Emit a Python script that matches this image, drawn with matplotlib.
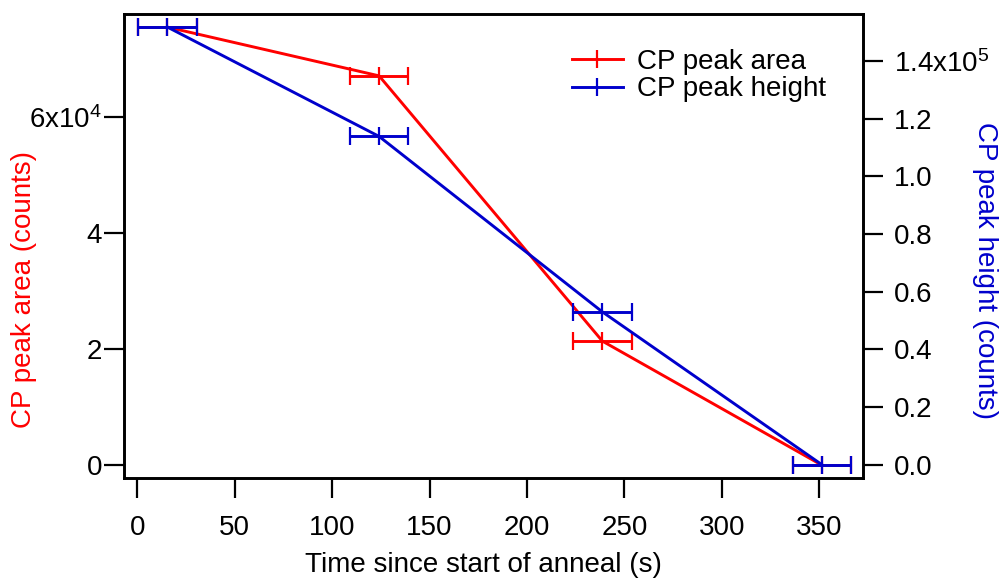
import matplotlib
matplotlib.use("Agg")
import matplotlib.pyplot as plt
from matplotlib.lines import Line2D

plt.rcParams['font.family'] = ['Liberation Sans', 'DejaVu Sans']
plt.rcParams['mathtext.default'] = 'regular'

# ---- data ----
time_s = [15.4, 124.1, 238.7, 351.5]
time_err = [15.0, 15.0, 15.0, 15.0]
peak_area = [7.55e4, 6.71e4, 2.14e4, 0.0]
peak_height = [1.517e5, 1.138e5, 0.530e5, 0.0]

x_ticks = [0, 50, 100, 150, 200, 250, 300, 350]
left_ticks = [0, 2e4, 4e4, 6e4]
left_labels = ['0', '2', '4', '6x10$^{4}$']
right_ticks = [0, 0.2e5, 0.4e5, 0.6e5, 0.8e5, 1.0e5, 1.2e5, 1.4e5]
right_labels = ['0.0', '0.2', '0.4', '0.6', '0.8', '1.0', '1.2', '1.4x10$^{5}$']

RED = '#FF0000'
BLUE = '#0000CC'
FS = 20

W, H = 1003, 580
fig = plt.figure(figsize=(W / 100, H / 100), dpi=100)
L, R, T, B = 124.3, 863, 14, 478.3
ax = fig.add_axes([L / W, 1 - B / H, (R - L) / W, (B - T) / H])
ax2 = ax.twinx()

lw = 2.1
ekw = dict(lw=lw, elinewidth=lw, capsize=6.2, capthick=2.0, marker='|',
           markersize=12.5, markeredgewidth=1.6, zorder=3)
ax.errorbar(time_s, peak_area, xerr=time_err, color=RED, **ekw)
ax2.errorbar(time_s, peak_height, xerr=time_err, color=BLUE, **ekw)

ax.set_xlim(-6.7, 372.5)
ax.set_ylim(-0.224e4, 7.776e4)
ax2.set_ylim(-0.0467e5, 1.5622e5)

ax.set_xticks(x_ticks)
ax.set_xticklabels([str(t) for t in x_ticks])
ax.set_yticks(left_ticks)
ax.set_yticklabels(left_labels)
ax2.set_yticks(right_ticks)
ax2.set_yticklabels(right_labels)

for a in (ax, ax2):
    for s in a.spines.values():
        s.set_linewidth(1.9)
ax.tick_params(axis='x', direction='out', length=14.5, width=1.6, pad=12, labelsize=FS)
ax.tick_params(axis='y', direction='out', length=14.5, width=1.6, pad=1.5, labelsize=FS)
ax2.tick_params(axis='y', direction='out', length=14.5, width=1.6, pad=8.0, labelsize=FS)

fig.text(483 / W, 1 - 565 / H, 'Time since start of anneal (s)', ha='center', va='center', fontsize=FS)
fig.text(24 / W, 1 - 290 / H, 'CP peak area (counts)', ha='center', va='center',
         rotation=90, color=RED, fontsize=FS)
fig.text(985 / W, 1 - 271 / H, 'CP peak height (counts)', ha='center', va='center',
         rotation=-90, color=BLUE, fontsize=FS)

handles = [
    Line2D([], [], color=RED, lw=lw, marker='|', markersize=12.5, markeredgewidth=1.6),
    Line2D([], [], color=BLUE, lw=lw, marker='|', markersize=12.5, markeredgewidth=1.6),
]
ax2.legend(handles, ['CP peak area', 'CP peak height'], loc='upper left',
           bbox_to_anchor=(572 / W, 1 - 49 / H), bbox_transform=fig.transFigure,
           frameon=False, fontsize=FS, handlelength=1.83, handletextpad=0.5,
           borderpad=0, borderaxespad=0, labelspacing=0.05)

fig.savefig('out.png', dpi=100)
